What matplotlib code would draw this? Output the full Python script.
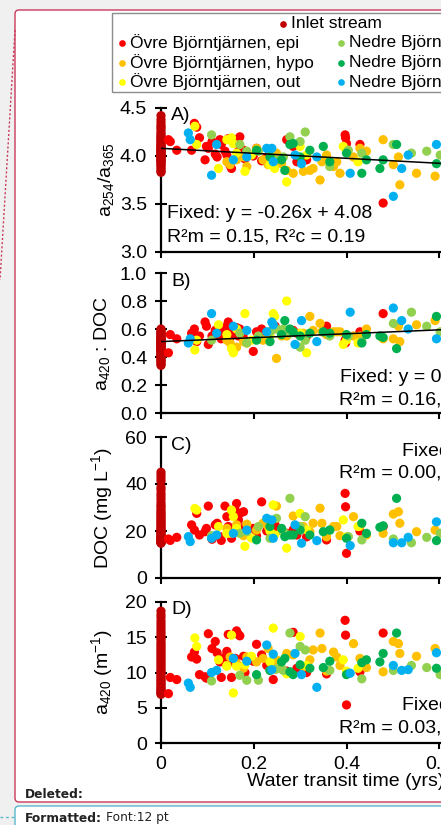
import numpy as np
import matplotlib
matplotlib.use('Agg')
import matplotlib.pyplot as plt
from matplotlib.patches import FancyBboxPatch, Rectangle
from matplotlib.ticker import FormatStrFormatter, FuncFormatter

plt.rcParams['font.family'] = ['Liberation Sans', 'DejaVu Sans']
plt.rcParams['mathtext.fontset'] = 'custom'
plt.rcParams['mathtext.rm'] = 'Liberation Sans'
plt.rcParams['mathtext.it'] = 'Liberation Sans:italic'
plt.rcParams['mathtext.bf'] = 'Liberation Sans:bold'

W, H = 441, 825

# ---- data (water transit time, yrs) ----
inlet_A = [4.42, 4.38, 4.35, 4.32, 4.30, 4.28, 4.25, 4.23, 4.21, 4.20, 4.18, 4.17, 4.15, 4.14,
           4.12, 4.11, 4.10, 4.09, 4.08, 4.07, 4.06, 4.05, 4.04, 4.03, 4.02, 4.01, 4.00, 3.99,
           3.98, 3.97, 3.96, 3.95, 3.94, 3.93, 3.91, 3.90, 3.88, 3.86, 3.84, 3.83]
inlet_B = [0.60, 0.59, 0.58, 0.57, 0.57, 0.56, 0.55, 0.55, 0.54, 0.53, 0.53, 0.52, 0.52, 0.51,
           0.51, 0.50, 0.50, 0.49, 0.49, 0.48, 0.48, 0.47, 0.47, 0.46, 0.46, 0.45, 0.45, 0.44,
           0.44, 0.43, 0.42, 0.42, 0.41, 0.40, 0.39, 0.38, 0.37, 0.36, 0.35, 0.34]
inlet_C = [45.0, 43.8, 42.5, 41.2, 38.6, 37.5, 36.0, 34.8, 33.5, 32.1, 31.0, 30.2, 29.1, 28.3,
           27.5, 26.8, 26.0, 25.3, 24.6, 23.9, 23.2, 22.5, 21.9, 21.2, 20.6, 20.0, 19.5, 19.0,
           18.5, 18.0, 17.6, 17.2, 16.8, 16.4, 16.0, 15.7, 15.4, 15.2, 15.0, 14.8]
inlet_D = [18.7, 18.2, 17.8, 17.3, 16.9, 16.5, 16.1, 15.7, 15.3, 14.9, 14.6, 14.2, 13.9, 13.6,
           13.3, 13.0, 12.7, 12.4, 12.1, 11.8, 11.5, 11.2, 10.9, 10.6, 10.3, 10.0, 9.8, 9.5,
           9.3, 9.0, 8.8, 8.5, 8.3, 8.0, 7.8, 7.6, 7.4, 7.2, 7.0, 6.9]
inlet_x = np.zeros(len(inlet_A))

epi_x = [0.016, 0.020, 0.034, 0.066, 0.072, 0.077, 0.083, 0.095, 0.098, 0.102,
         0.110, 0.117, 0.121, 0.127, 0.130, 0.138, 0.142, 0.145, 0.149, 0.152,
         0.160, 0.163, 0.167, 0.170, 0.178, 0.181, 0.199, 0.206, 0.217, 0.228,
         0.242, 0.246, 0.271, 0.285, 0.293, 0.314, 0.357, 0.397, 0.398, 0.400,
         0.429, 0.479]
epi_A = [4.17, 4.15, 4.06, 4.06, 4.34, 4.30, 4.19, 3.96, 4.10, 4.08,
         4.15, 4.02, 3.99, 4.17, 4.12, 4.05, 4.01, 4.18, 3.90, 3.87,
         4.17, 4.15, 4.05, 4.20, 4.06, 3.97, 4.00, 4.08, 3.95, 3.99,
         3.96, 3.92, 4.17, 4.10, 3.94, 3.96, 3.98, 4.22, 4.19, 4.13,
         4.12, 3.51]
epi_B = [0.43, 0.56, 0.53, 0.57, 0.60, 0.51, 0.55, 0.65, 0.62, 0.49,
         0.55, 0.59, 0.56, 0.60, 0.53, 0.58, 0.62, 0.65, 0.54, 0.57,
         0.59, 0.61, 0.55, 0.60, 0.57, 0.52, 0.44, 0.58, 0.60, 0.56,
         0.60, 0.62, 0.58, 0.59, 0.57, 0.55, 0.62, 0.52, 0.50, 0.54,
         0.58, 0.71]
epi_C = [16.6, 16.0, 17.3, 22.6, 20.4, 27.5, 18.3, 19.7, 21.1, 30.6,
         16.5, 22.6, 23.3, 17.6, 16.0, 30.6, 26.1, 21.9, 19.3, 16.9,
         28.9, 31.7, 24.7, 27.5, 28.2, 21.9, 21.1, 18.0, 32.4, 20.0,
         21.1, 22.6, 19.0, 20.5, 18.3, 17.5, 16.2, 36.0, 30.3, 10.5,
         20.0, 21.9]
epi_D = [7.0, 9.3, 9.0, 12.2, 12.9, 11.9, 9.7, 9.4, 9.2, 15.5,
         13.4, 14.4, 12.8, 11.5, 9.3, 12.2, 13.0, 15.4, 11.5, 9.3,
         12.0, 15.9, 15.4, 15.2, 12.3, 10.0, 11.6, 14.0, 12.5, 11.0,
         9.0, 10.5, 10.2, 15.7, 10.6, 10.0, 9.8, 17.4, 15.3, 5.4,
         10.1, 15.6]

hypo_x = [0.142, 0.149, 0.163, 0.178, 0.185, 0.206, 0.220, 0.231, 0.249, 0.260,
          0.271, 0.285, 0.307, 0.321, 0.328, 0.343, 0.347, 0.357, 0.372, 0.379,
          0.386, 0.415, 0.429, 0.443, 0.479, 0.501, 0.512, 0.515, 0.551, 0.591]
hypo_A = [3.94, 3.91, 3.96, 3.99, 3.89, 4.08, 3.96, 3.91, 4.03, 3.92,
          3.85, 3.82, 3.84, 3.85, 3.87, 3.75, 3.94, 4.01, 3.89, 3.94,
          3.82, 3.99, 4.08, 4.05, 4.17, 3.91, 3.99, 3.70, 3.82, 3.79]
hypo_B = [0.52, 0.50, 0.47, 0.51, 0.50, 0.53, 0.52, 0.55, 0.39, 0.55,
          0.55, 0.58, 0.57, 0.69, 0.59, 0.64, 0.58, 0.56, 0.58, 0.58,
          0.58, 0.55, 0.55, 0.60, 0.53, 0.53, 0.62, 0.51, 0.63, 0.66]
hypo_C = [21.1, 19.0, 22.6, 18.0, 22.9, 20.4, 23.3, 21.9, 30.6, 20.0,
          18.5, 26.4, 21.9, 19.7, 23.3, 29.7, 23.3, 17.5, 21.9, 21.9,
          18.0, 26.1, 22.0, 18.3, 19.0, 27.2, 28.2, 23.3, 19.7, 20.4]
hypo_D = [11.0, 12.2, 11.3, 10.6, 12.2, 11.5, 12.0, 13.4, 11.8, 10.5,
          12.7, 12.5, 10.8, 11.8, 13.2, 15.6, 13.4, 10.2, 12.9, 12.2,
          11.0, 14.1, 12.0, 10.7, 10.1, 14.4, 14.1, 12.7, 12.3, 13.4]

out_x = [0.073, 0.077, 0.124, 0.142, 0.152, 0.156, 0.163, 0.181, 0.195, 0.235,
         0.242, 0.245, 0.271, 0.300, 0.314, 0.393, 0.400, 0.425]
out_A = [4.31, 4.12, 3.87, 4.17, 4.19, 4.13, 4.03, 3.84, 4.01, 3.91,
         3.96, 3.87, 3.73, 4.10, 4.01, 4.10, 4.06, 3.94]
out_B = [0.45, 0.52, 0.63, 0.56, 0.46, 0.43, 0.60, 0.71, 0.52, 0.55,
         0.71, 0.69, 0.80, 0.57, 0.43, 0.49, 0.52, 0.50]
out_C = [29.6, 28.9, 21.9, 19.0, 28.9, 26.1, 21.1, 13.5, 17.0, 20.0,
         31.1, 18.3, 12.7, 27.5, 20.5, 24.7, 17.5, 21.9]
out_D = [14.9, 13.7, 11.8, 10.9, 15.3, 7.1, 10.9, 11.1, 12.3, 11.5,
         16.3, 10.5, 9.8, 15.1, 11.0, 11.8, 10.2, 10.6]

nepi_x = [0.109, 0.170, 0.185, 0.210, 0.235, 0.249, 0.264, 0.278, 0.300, 0.311,
          0.364, 0.404, 0.433, 0.501, 0.540, 0.573, 0.602]
nepi_A = [4.22, 4.12, 4.05, 4.05, 4.06, 3.96, 3.99, 4.20, 4.15, 4.25,
          3.89, 4.06, 4.03, 4.12, 4.03, 4.05, 4.01]
nepi_B = [0.52, 0.57, 0.50, 0.55, 0.58, 0.60, 0.60, 0.57, 0.47, 0.52,
          0.55, 0.55, 0.51, 0.64, 0.72, 0.62, 0.58]
nepi_C = [18.0, 19.0, 19.7, 21.9, 16.9, 25.4, 19.7, 33.9, 21.9, 26.1,
          20.4, 17.6, 16.2, 16.6, 15.0, 17.3, 19.0]
nepi_D = [8.8, 9.6, 8.9, 8.9, 10.3, 10.5, 10.3, 15.6, 13.7, 13.2,
          10.3, 9.9, 9.1, 10.3, 11.0, 10.7, 9.7]

nhypo_x = [0.206, 0.235, 0.260, 0.267, 0.278, 0.285, 0.300, 0.321, 0.350, 0.364,
           0.400, 0.433, 0.443, 0.472, 0.479, 0.508, 0.594]
nhypo_A = [4.06, 3.99, 3.96, 3.85, 4.12, 4.13, 3.99, 4.06, 4.10, 3.94,
           4.03, 3.82, 3.96, 3.87, 3.96, 4.12, 3.92]
nhypo_B = [0.52, 0.51, 0.56, 0.66, 0.60, 0.58, 0.55, 0.57, 0.58, 0.57,
           0.56, 0.50, 0.56, 0.55, 0.54, 0.46, 0.69]
nhypo_C = [16.2, 21.9, 21.1, 17.6, 18.3, 18.3, 20.4, 18.3, 19.7, 20.4,
           16.9, 23.3, 19.0, 21.6, 22.2, 33.9, 15.9]
nhypo_D = [9.7, 10.3, 11.5, 12.0, 10.1, 9.7, 11.1, 10.6, 10.7, 11.6,
           9.7, 11.4, 11.8, 11.5, 12.7, 15.6, 10.6]

nout_x = [0.059, 0.063, 0.109, 0.120, 0.156, 0.185, 0.228, 0.239, 0.242, 0.289,
          0.303, 0.336, 0.408, 0.501, 0.519, 0.533, 0.594]
nout_A = [4.24, 4.17, 3.80, 4.12, 3.96, 3.99, 4.08, 4.08, 3.94, 4.01,
          3.92, 3.99, 3.82, 3.58, 3.87, 4.01, 4.12]
nout_B = [0.50, 0.53, 0.71, 0.57, 0.62, 0.59, 0.58, 0.65, 0.63, 0.49,
          0.66, 0.51, 0.72, 0.75, 0.66, 0.60, 0.53]
nout_C = [17.6, 15.5, 16.9, 18.3, 19.0, 20.4, 25.4, 24.7, 16.9, 22.6,
          14.8, 15.9, 13.8, 15.0, 15.0, 17.3, 23.9]
nout_D = [8.5, 7.9, 10.0, 10.3, 12.0, 11.6, 13.9, 10.4, 12.6, 12.7,
          9.7, 7.9, 9.9, 11.0, 10.3, 10.4, 12.8]

labels = ['Inlet stream', 'Övre Björntjärnen, epi', 'Övre Björntjärnen, hypo',
          'Övre Björntjärnen, out', 'Nedre Björntjärnen, epi',
          'Nedre Björntjärnen, hypo', 'Nedre Björntjärnen, out']
colors = ['#c00000', '#ff0000', '#ffc000', '#ffff00', '#92d050', '#00b050', '#00b0f0']

series = [
    (inlet_x, [inlet_A, inlet_B, inlet_C, inlet_D]),
    (epi_x, [epi_A, epi_B, epi_C, epi_D]),
    (hypo_x, [hypo_A, hypo_B, hypo_C, hypo_D]),
    (out_x, [out_A, out_B, out_C, out_D]),
    (nepi_x, [nepi_A, nepi_B, nepi_C, nepi_D]),
    (nhypo_x, [nhypo_A, nhypo_B, nhypo_C, nhypo_D]),
    (nout_x, [nout_A, nout_B, nout_C, nout_D]),
]

# fixed-effect fits (slope, intercept); None = not drawn
fits = [(-0.26, 4.08), (0.14, 0.51), None, None]


def px(x, y):
    return x / W, 1 - y / H


fig = plt.figure(figsize=(W / 100, H / 100), dpi=100)
fig.patch.set_facecolor('#f0f0f0')

# page / comment-box background
bg = fig.add_axes([0, 0, 1, 1])
bg.set_xlim(0, W)
bg.set_ylim(H, 0)
bg.axis('off')
bg.add_patch(FancyBboxPatch((15, 10), 500, 792, boxstyle='round,pad=0,rounding_size=4',
                            fc='white', ec='#c93a5c', lw=1.0))
bg.add_patch(FancyBboxPatch((15, 806), 500, 40, boxstyle='round,pad=0,rounding_size=4',
                            fc='white', ec='#5bb8cc', lw=1.0))
bg.plot([15, 0], [30, 280], ls=(0, (1.5, 1.5)), color='#c93a5c', lw=1)
bg.plot([0, 14], [817, 817], ls=(0, (2, 2)), color='#5bb8cc', lw=1)

# legend
bg.add_patch(Rectangle((112, 13), 400, 79, fill=False, ec='#8c8c8c', lw=1))
leg_pos = [(283, 24), (122, 43), (122, 63), (122, 82), (341, 43), (341, 63), (341, 82)]
for (lx, ly), lab, col in zip(leg_pos, labels, colors):
    bg.plot(lx, ly, 'o', ms=4.8, color=col, mec='none')
    bg.text(lx + 8, ly, lab, fontsize=12.5, va='center', ha='left')

fig.text(*px(25, 794), 'Deleted:', family='DejaVu Sans', fontweight='bold', fontsize=8.8,
         va='center', color='#222222')
fig.text(*px(25, 818), 'Formatted:', family='DejaVu Sans', fontweight='bold', fontsize=8.8,
         va='center', color='#222222')
fig.text(*px(106, 818), 'Font:12 pt', family='DejaVu Sans', fontsize=8.8,
         va='center', color='#222222')

panels = [
    dict(tag='A)', ylim=(3.0, 4.5), ticks=[3.0, 3.5, 4.0, 4.5], fmt='%.1f',
         ylabel='a$_{254}$/a$_{365}$', top=108, bot=252, ylab_x=106,
         notes=[(167, 213, 'Fixed: y = -0.26x + 4.08'), (167, 237, 'R²m = 0.15, R²c = 0.19')]),
    dict(tag='B)', ylim=(0.0, 1.0), ticks=[0, 0.2, 0.4, 0.6, 0.8, 1.0], fmt='%.1f',
         ylabel='a$_{420}$ : DOC', top=273, bot=413, ylab_x=102,
         notes=[(340, 377, 'Fixed: y = 0.14x + 0.51'), (339, 400, 'R²m = 0.16, R²c = 0.27')]),
    dict(tag='C)', ylim=(0, 60), ticks=[0, 20, 40, 60], fmt='%d',
         ylabel='DOC (mg L$^{-1}$)', top=437, bot=578, ylab_x=102,
         notes=[(402, 451, 'Fixed: y = 0.9x + 21'), (339, 473, 'R²m = 0.00, R²c = 0.57')]),
    dict(tag='D)', ylim=(0, 20), ticks=[0, 5, 10, 15, 20], fmt='%d',
         ylabel='a$_{420}$ (m$^{-1}$)', top=602, bot=743, ylab_x=102,
         notes=[(402, 706, 'Fixed: y = 2.0x + 11'), (339, 728, 'R²m = 0.03, R²c = 0.49')]),
]

x0_px, x_per_unit = 161, 463.75
for i, p in enumerate(panels):
    ax = fig.add_axes([x0_px / W, 1 - p['bot'] / H, x_per_unit / W, (p['bot'] - p['top']) / H])
    ax.set_facecolor('none')
    ax.set_xlim(0, 1.0)
    ax.set_ylim(*p['ylim'])
    for s in ['top', 'right']:
        ax.spines[s].set_visible(False)
    for s in ['left', 'bottom']:
        ax.spines[s].set_linewidth(1.6)
    ax.set_yticks(p['ticks'])
    ax.yaxis.set_major_formatter(FormatStrFormatter(p['fmt']))
    ax.set_xticks([0, 0.2, 0.4, 0.6, 0.8, 1.0])
    ax.xaxis.set_major_formatter(FuncFormatter(lambda v, _: '%g' % v))
    ax.tick_params(axis='y', direction='inout', length=8, width=1.5, labelsize=14, pad=6)
    ax.tick_params(axis='x', direction='out', length=4, width=1.5, labelsize=14, pad=5.5,
                   labelbottom=(i == 3))

    for (sx, vals), col in zip(series, colors):
        ax.scatter(sx, vals[i], s=44, color=col, edgecolors='none', clip_on=False, zorder=3)

    if fits[i] is not None:
        m, b = fits[i]
        ax.plot([0, 1.0], [b, b + m * 1.0], color='black', lw=1.1, zorder=4)

    ax.set_ylabel(p['ylabel'], fontsize=14, va='center')
    ax.yaxis.set_label_coords((p['ylab_x'] - x0_px) / x_per_unit, 0.5)

    fig.text(*px(171, p['top'] + 8), p['tag'], fontsize=14, va='center')
    for nx, ny, t in p['notes']:
        fig.text(*px(nx, ny), t, fontsize=14, va='center', ha='left')

fig.text(*px(247, 782), 'Water transit time (yrs)', fontsize=14, va='center', ha='left')

fig.savefig('out.png', dpi=100, facecolor=fig.get_facecolor())
